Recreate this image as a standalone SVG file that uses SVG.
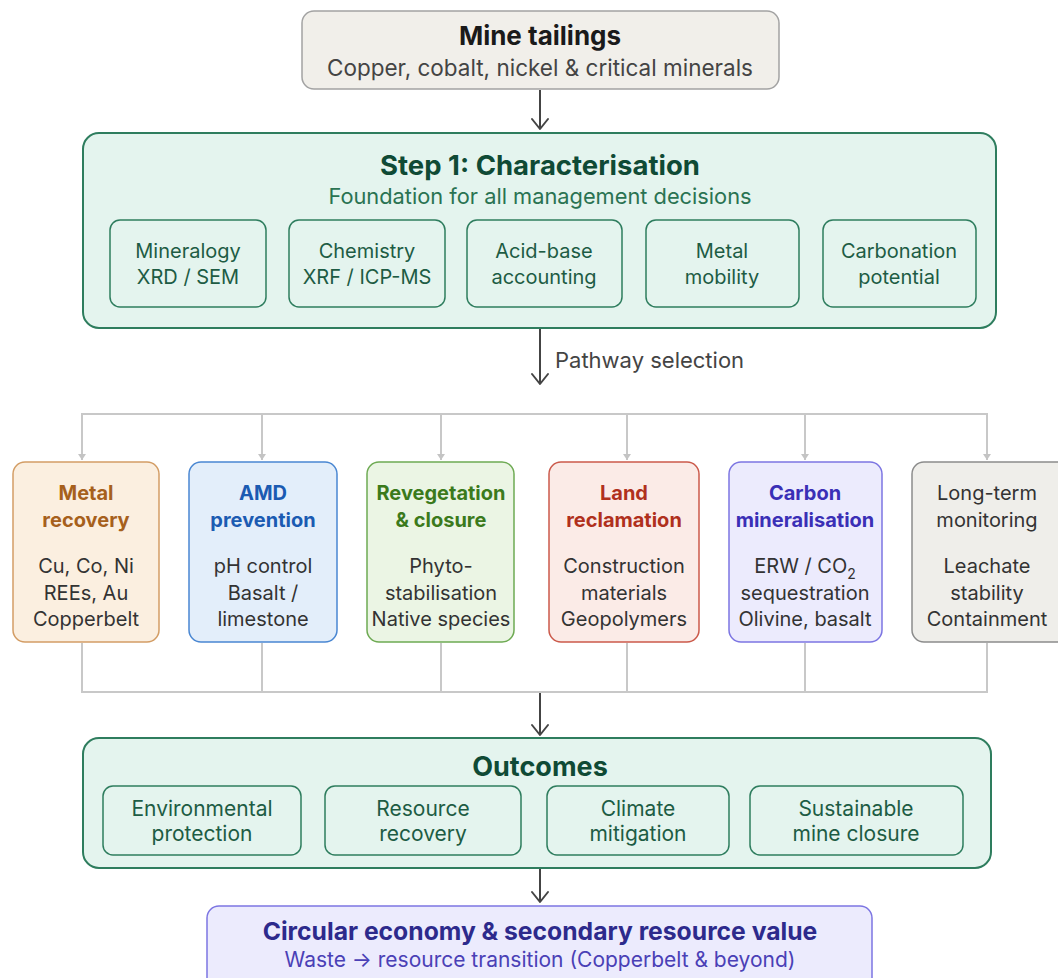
<svg xmlns="http://www.w3.org/2000/svg" width="1058" height="978" viewBox="0 0 1058 978">
<defs>
<marker id="arr" viewBox="-12 -10 14 20" refX="0" refY="0" markerWidth="14" markerHeight="20" markerUnits="userSpaceOnUse" orient="auto">
<path d="M-10,-8 L0,0 L-10,8" fill="none" stroke="#444" stroke-width="2" stroke-linecap="round" stroke-linejoin="round"/>
</marker>
<marker id="arrg" viewBox="-8 -5 9 10" refX="0" refY="0" markerWidth="9" markerHeight="10" markerUnits="userSpaceOnUse" orient="auto">
<path d="M-6,-4 L0,0 L-6,4 Z" fill="#c4c4c4"/>
</marker>
<style>
text{font-family:Inter,"Noto Sans","Liberation Sans",sans-serif;text-anchor:middle}
.t{font-weight:700}
.g1{fill:#e4f4ee;stroke:#2e7d5e;stroke-width:2}
.gs{fill:#e4f4ee;stroke:#2e7d5e;stroke-width:1.5}
.gt{fill:#0f4a35}
.gx{fill:#1d5c44;font-size:20px}
.ox{fill:#1d5c44;font-size:21px}
.body{fill:#333;font-size:20px}
.pt{font-size:20px;font-weight:700}
.ln{fill:none;stroke:#c8c8c8;stroke-width:2}
.ar{fill:none;stroke:#444;stroke-width:2}
</style>
</defs>
<g id="connectors">
<line class="ar" x1="540" y1="90" x2="540" y2="129" marker-end="url(#arr)"/>
<line class="ar" x1="540" y1="329" x2="540" y2="384" marker-end="url(#arr)"/>
<text x="555" y="368" style="text-anchor:start;font-size:22px;fill:#444">Pathway selection</text>
<path class="ln" d="M82,460 V414 H987 V460"/>
<line class="ln" x1="262" y1="414" x2="262" y2="460" marker-end="url(#arrg)"/>
<line class="ln" x1="441" y1="414" x2="441" y2="460" marker-end="url(#arrg)"/>
<line class="ln" x1="627" y1="414" x2="627" y2="460" marker-end="url(#arrg)"/>
<line class="ln" x1="805" y1="414" x2="805" y2="460" marker-end="url(#arrg)"/>
<line class="ln" x1="82" y1="440" x2="82" y2="460" marker-end="url(#arrg)"/>
<line class="ln" x1="987" y1="440" x2="987" y2="460" marker-end="url(#arrg)"/>
<path class="ln" d="M82,643 V692 H987 V643"/>
<line class="ln" x1="262" y1="643" x2="262" y2="692"/>
<line class="ln" x1="441" y1="643" x2="441" y2="692"/>
<line class="ln" x1="627" y1="643" x2="627" y2="692"/>
<line class="ln" x1="805" y1="643" x2="805" y2="692"/>
<line class="ar" x1="540" y1="693" x2="540" y2="735" marker-end="url(#arr)"/>
<line class="ar" x1="540" y1="869" x2="540" y2="902" marker-end="url(#arr)"/>
</g>
<g id="mine-tailings">
<rect x="302" y="11" width="477" height="78" rx="12" fill="#f1efea" stroke="#a3a3a3" stroke-width="1.5"/>
<text class="t" x="540" y="45" style="font-size:26px;fill:#1a1a1a">Mine tailings</text>
<text x="540" y="76" style="font-size:22.5px;fill:#444">Copper, cobalt, nickel &amp; critical minerals</text>
</g>
<g id="step1">
<rect class="g1" x="83" y="133" width="913" height="195" rx="16"/>
<text class="t gt" x="540" y="175" style="font-size:27.5px">Step 1: Characterisation</text>
<text x="540" y="204" style="font-size:21.8px;fill:#2a7352">Foundation for all management decisions</text>
</g>
<g id="mineralogy">
<rect class="gs" x="110" y="220" width="156" height="87" rx="10"/>
<text class="gx" x="188" y="258">Mineralogy</text>
<text class="gx" x="188" y="284">XRD / SEM</text>
</g>
<g id="chemistry">
<rect class="gs" x="289" y="220" width="156" height="87" rx="10"/>
<text class="gx" x="367" y="258">Chemistry</text>
<text class="gx" x="367" y="284">XRF / ICP-MS</text>
</g>
<g id="acid-base">
<rect class="gs" x="467" y="220" width="155" height="87" rx="10"/>
<text class="gx" x="544" y="258">Acid-base</text>
<text class="gx" x="544" y="284">accounting</text>
</g>
<g id="metal-mobility">
<rect class="gs" x="646" y="220" width="153" height="87" rx="10"/>
<text class="gx" x="722" y="258">Metal</text>
<text class="gx" x="722" y="284">mobility</text>
</g>
<g id="carbonation">
<rect class="gs" x="823" y="220" width="153" height="87" rx="10"/>
<text class="gx" x="899" y="258">Carbonation</text>
<text class="gx" x="899" y="284">potential</text>
</g>
<g id="metal-recovery">
<rect x="13" y="462" width="146" height="180" rx="12" fill="#fbefe0" stroke="#d39d65" stroke-width="1.5"/>
<text class="pt" x="86" y="500" fill="#a6601c">Metal</text>
<text class="pt" x="86" y="527" fill="#a6601c">recovery</text>
<text class="body" x="86" y="573">Cu, Co, Ni</text>
<text class="body" x="86" y="600">REEs, Au</text>
<text class="body" x="86" y="626">Copperbelt</text>
</g>
<g id="amd-prevention">
<rect x="189" y="462" width="148" height="180" rx="12" fill="#e3eefa" stroke="#4a87d2" stroke-width="1.5"/>
<text class="pt" x="263" y="500" fill="#1b5bb2">AMD</text>
<text class="pt" x="263" y="527" fill="#1b5bb2">prevention</text>
<text class="body" x="263" y="573">pH control</text>
<text class="body" x="263" y="600">Basalt /</text>
<text class="body" x="263" y="626">limestone</text>
</g>
<g id="revegetation">
<rect x="367" y="462" width="147" height="180" rx="12" fill="#ebf5e4" stroke="#6eaa53" stroke-width="1.5"/>
<text class="pt" x="441" y="500" fill="#3b7a1c">Revegetation</text>
<text class="pt" x="441" y="527" fill="#3b7a1c">&amp; closure</text>
<text class="body" x="441" y="573">Phyto-</text>
<text class="body" x="441" y="600">stabilisation</text>
<text class="body" x="441" y="626">Native species</text>
</g>
<g id="land-reclamation">
<rect x="549" y="462" width="150" height="180" rx="12" fill="#fbebe7" stroke="#cb5a4b" stroke-width="1.5"/>
<text class="pt" x="624" y="500" fill="#b0301d">Land</text>
<text class="pt" x="624" y="527" fill="#b0301d">reclamation</text>
<text class="body" x="624" y="573">Construction</text>
<text class="body" x="624" y="600">materials</text>
<text class="body" x="624" y="626">Geopolymers</text>
</g>
<g id="carbon-mineralisation">
<rect x="729" y="462" width="153" height="180" rx="12" fill="#ecebfd" stroke="#7c75e2" stroke-width="1.5"/>
<text class="pt" x="805" y="500" fill="#3a2fb6">Carbon</text>
<text class="pt" x="805" y="527" fill="#3a2fb6">mineralisation</text>
<text class="body" x="805" y="573">ERW / CO<tspan font-size="14" dy="6">2</tspan></text>
<text class="body" x="805" y="600">sequestration</text>
<text class="body" x="805" y="626">Olivine, basalt</text>
</g>
<g id="long-term-monitoring">
<rect x="912" y="462" width="160" height="180" rx="12" fill="#efeeea" stroke="#8c8c8c" stroke-width="1.5"/>
<text x="987" y="500" style="font-size:20px;fill:#333">Long-term</text>
<text x="987" y="527" style="font-size:20px;fill:#333">monitoring</text>
<text class="body" x="987" y="573">Leachate</text>
<text class="body" x="987" y="600">stability</text>
<text class="body" x="987" y="626">Containment</text>
</g>
<g id="outcomes">
<rect class="g1" x="83" y="738" width="908" height="130" rx="16"/>
<text class="t gt" x="540" y="776" style="font-size:27px">Outcomes</text>
</g>
<g id="env-protection">
<rect class="gs" x="103" y="786" width="198" height="69" rx="10"/>
<text class="ox" x="202" y="816">Environmental</text>
<text class="ox" x="202" y="841">protection</text>
</g>
<g id="resource-recovery">
<rect class="gs" x="325" y="786" width="196" height="69" rx="10"/>
<text class="ox" x="423" y="816">Resource</text>
<text class="ox" x="423" y="841">recovery</text>
</g>
<g id="climate-mitigation">
<rect class="gs" x="547" y="786" width="182" height="69" rx="10"/>
<text class="ox" x="638" y="816">Climate</text>
<text class="ox" x="638" y="841">mitigation</text>
</g>
<g id="sustainable-closure">
<rect class="gs" x="750" y="786" width="213" height="69" rx="10"/>
<text class="ox" x="856" y="816">Sustainable</text>
<text class="ox" x="856" y="841">mine closure</text>
</g>
<g id="circular-economy">
<rect x="207" y="906" width="665" height="90" rx="12" fill="#ecebfd" stroke="#7c75e2" stroke-width="1.5"/>
<text class="t" x="540" y="940" style="font-size:24.7px;fill:#2d2a8c">Circular economy &amp; secondary resource value</text>
<text x="540" y="967" style="font-size:21px;fill:#4a40b6">Waste → resource transition (Copperbelt &amp; beyond)</text>
</g>
</svg>
